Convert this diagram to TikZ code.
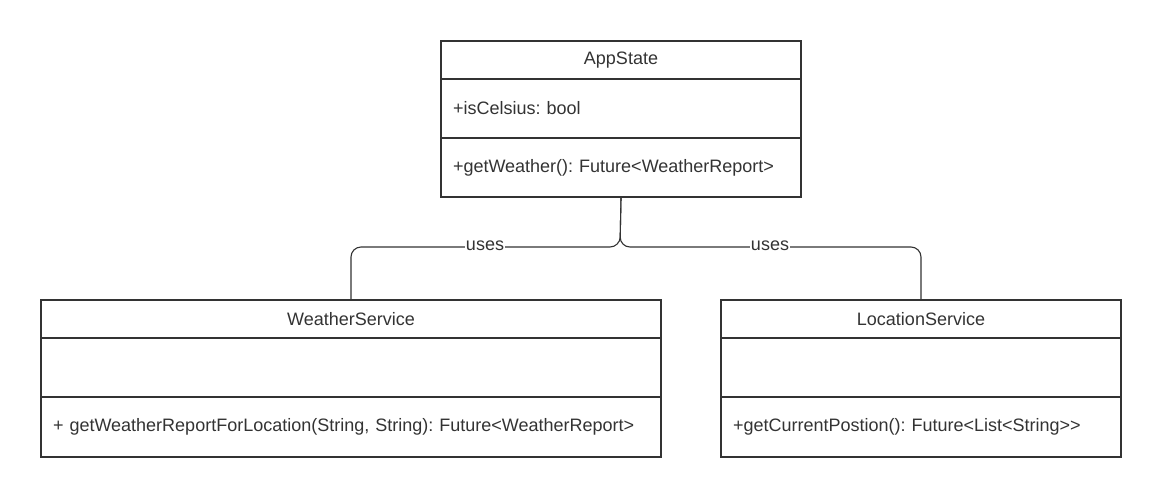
\documentclass[tikz,border=0pt]{standalone}
\usepackage{fontspec}
\setmainfont{Liberation Sans}
\frenchspacing
\definecolor{linec}{HTML}{333333}
\definecolor{txtc}{HTML}{333333}
\begin{document}
\begin{tikzpicture}[x=1pt,y=-1pt,
  every node/.style={font=\fontsize{18}{21}\selectfont, text=txtc},
  comp/.style={draw=linec, line width=2pt, inner ysep=0pt, inner xsep=12pt, anchor=north west},
  title/.style={comp, align=center},
  body/.style={comp, align=left},
  conn/.style={draw=linec, line width=1.1pt, rounded corners=10pt},
  lbl/.style={fill=white, inner sep=1pt}
]
\useasboundingbox (0,0) rectangle (1160,496);
% AppState
\node[title, minimum width=360pt, minimum height=38pt, text width=336pt] (as-title) at (440,40) {AppState};
\node[body, minimum width=360pt, minimum height=59pt, text width=336pt] (as-attr) at (440,78) {+isCelsius: bool};
\node[body, minimum width=360pt, minimum height=59pt, text width=336pt] (as-meth) at (440,137) {+getWeather(): Future<WeatherReport>\vphantom{Ag}\raisebox{0pt}[0pt][4pt]{}};
% WeatherService
\node[title, minimum width=620pt, minimum height=38pt, text width=596pt] (ws-title) at (40,299) {WeatherService};
\node[body, minimum width=620pt, minimum height=59pt, text width=596pt] (ws-attr) at (40,337) {};
\node[body, minimum width=620pt, minimum height=60pt, text width=596pt] (ws-meth) at (40,396) {+ getWeatherReportForLocation(String, String): Future<WeatherReport>\raisebox{0pt}[0pt][4pt]{}};
% LocationService
\node[title, minimum width=400pt, minimum height=38pt, text width=376pt] (ls-title) at (720,299) {LocationService};
\node[body, minimum width=400pt, minimum height=59pt, text width=376pt] (ls-attr) at (720,337) {};
\node[body, minimum width=400pt, minimum height=60pt, text width=376pt] (ls-meth) at (720,396) {+getCurrentPostion(): Future<List<String>{}>\raisebox{0pt}[0pt][4pt]{}};
% connectors
\coordinate (split) at (620,247);
\draw[conn] (as-meth.south) -- (split) -| (ws-title.north);
\draw[conn] (as-meth.south) -- (split) -| (ls-title.north);
\node[lbl] (uses1) at (485,246) {uses};
\node[lbl] (uses2) at (770,246) {uses};
\end{tikzpicture}
\end{document}
